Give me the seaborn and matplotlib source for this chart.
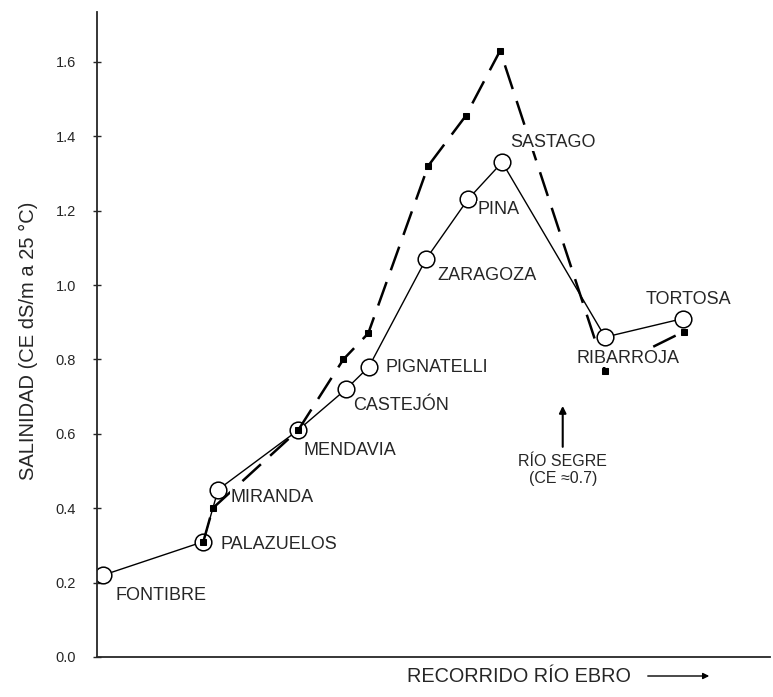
import numpy as np
import pandas as pd
import matplotlib
matplotlib.use("Agg")
import matplotlib.pyplot as plt
import seaborn as sns

# position along the river (arbitrary units) and salinity (CE dS/m)
stations = ["FONTIBRE", "PALAZUELOS", "MIRANDA", "MENDAVIA", "CASTEJÓN", "PIGNATELLI",
            "ZARAGOZA", "PINA", "SASTAGO", "RIBARROJA", "TORTOSA"]
pos_open = [0.9, 15.8, 18.0, 29.9, 37.0, 40.4, 48.9, 55.1, 60.2, 75.5, 87.1]
ce_open = [0.22, 0.31, 0.45, 0.61, 0.72, 0.78, 1.07, 1.23, 1.33, 0.86, 0.91]

pos_filled = [15.8, 17.2, 29.9, 36.6, 40.3, 49.2, 54.8, 59.9, 75.5, 87.2]
ce_filled = [0.31, 0.40, 0.61, 0.80, 0.87, 1.32, 1.455, 1.63, 0.77, 0.875]

segre_pos = 69.2
yticks = [0.0, 0.2, 0.4, 0.6, 0.8, 1.0, 1.2, 1.4, 1.6]

# label offsets in pixels (dx, dy)
label_off = [(12, -20), (17, -3), (12, -8), (5, -20), (7, -16), (17, -1),
             (11, -17), (10, -10), (8, 20), (-29, -21), (-38, 19)]

sns.set_style("ticks")
plt.rcParams["font.family"] = ["Liberation Sans", "DejaVu Sans"]

fig = plt.figure(figsize=(7.73, 6.97), dpi=100)
ax = fig.add_axes([97/773, 40/697, 673/773, 645/697])

df_open = pd.DataFrame({"pos": pos_open, "ce": ce_open})
df_filled = pd.DataFrame({"pos": pos_filled, "ce": ce_filled})

sns.lineplot(data=df_open, x="pos", y="ce", sort=False, color="black", lw=1.0,
             marker="o", markersize=12, markerfacecolor="white",
             markeredgecolor="black", markeredgewidth=1.1, ax=ax, zorder=2)
sns.lineplot(data=df_filled, x="pos", y="ce", sort=False, color="black", lw=1.8,
             marker="s", markersize=4.5, markerfacecolor="black",
             markeredgecolor="black", dashes=False, ax=ax, zorder=3)
ax.lines[-1].set_dashes((10, 5))

for name, x, y, (dx, dy) in zip(stations, pos_open, ce_open, label_off):
    ax.annotate(name, (x, y), xytext=(dx, dy), textcoords="offset pixels",
                ha="left", va="center", fontsize=13, zorder=5,
                bbox=dict(fc="white", ec="none", pad=0.3))

ax.annotate("RÍO SEGRE\n(CE ≈0.7)", xy=(segre_pos, 0.675), xytext=(segre_pos, 0.545),
            ha="center", va="top", fontsize=11.5, multialignment="center",
            linespacing=1.15,
            arrowprops=dict(arrowstyle="-|>", color="black", lw=1.5,
                            mutation_scale=10, shrinkA=3, shrinkB=0))

ax.set_xlim(0, 100)
ax.set_ylim(0, 1.734)
ax.set_yticks(yticks)
ax.set_yticklabels([f"{t:.1f}" for t in yticks], fontsize=10.5)
ax.set_xticks([])
ax.tick_params(axis="y", direction="inout", length=6, width=1, pad=12)
ax.set_ylabel("SALINIDAD (CE dS/m a 25 °C)", fontsize=14.5)
ax.yaxis.set_label_coords(-0.088, 0.49)
ax.set_xlabel("")
sns.despine(ax=ax)
ax.spines["left"].set_linewidth(1.3)
ax.spines["bottom"].set_linewidth(1.3)

fig.text(407/773, 1 - 676/697, "RECORRIDO RÍO EBRO", ha="left", va="center", fontsize=14.3)
fig.add_artist(matplotlib.patches.FancyArrowPatch((645/773, 1 - 676/697), (712/773, 1 - 676/697),
               transform=fig.transFigure, arrowstyle="-|>", mutation_scale=9,
               color="black", lw=1))

fig.savefig("out.png", dpi=100)
